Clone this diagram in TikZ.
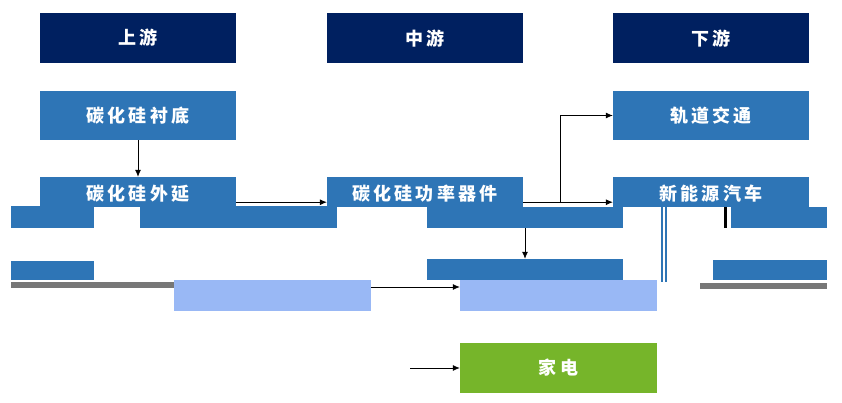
\documentclass[tikz,border=0pt]{standalone}
\usepackage{fontspec}
\newfontfamily\cjk[LetterSpace=18]{Noto Sans CJK SC}
\usetikzlibrary{arrows.meta}
\definecolor{navy}{HTML}{002060}
\definecolor{mblue}{HTML}{2E75B6}
\definecolor{lblue}{HTML}{99B8F5}
\definecolor{mgreen}{HTML}{76B52A}
\definecolor{mgrey}{HTML}{777777}
\tikzset{
  box/.style={draw=none, minimum width=196pt, inner sep=0pt, font=\cjk\bfseries\fontsize{18pt}{20pt}\selectfont, text=white},
  hdr/.style={box, fill=navy, minimum height=50pt},
  stepbox/.style={box, fill=mblue, minimum height=49pt},
  cutbox/.style={box, fill=mblue, minimum height=30pt, text height=14pt, text depth=4pt},
  frag/.style={draw=none, fill=mblue, inner sep=0pt},
  lfrag/.style={draw=none, fill=lblue, inner sep=0pt, minimum width=197pt, minimum height=31pt},
  gfrag/.style={draw=none, fill=mgrey, inner sep=0pt},
  conn/.style={draw=black, line width=0.8pt, -{Latex[length=7pt,width=6pt]}}
}
\begin{document}
\begin{tikzpicture}[x=1pt,y=-1pt]
\useasboundingbox (0,0) rectangle (842,403);
% headers
\node[hdr] (up) at (138,38) {上游};
\node[hdr] (mid) at (425,38.5) {中游};
\node[hdr] (down) at (711,38.5) {下游};
% row 2
\node[stepbox] (sub) at (138,115.5) {碳化硅衬底};
\node[stepbox] (rail) at (711,115.5) {轨道交通};
% row 3 (upper parts of boxes)
\node[cutbox] (epi) at (138,192) {\raisebox{-4pt}{碳化硅外延}};
\node[cutbox] (pow) at (425,192) {\raisebox{-4pt}{碳化硅功率器件}};
\node[cutbox] (nev) at (711,192) {\raisebox{-4pt}{新能源汽车}};
% fragments below row 3
\node[frag, minimum width=83pt, minimum height=22pt] (f1) at (52.5,217) {};
\node[frag, minimum width=197pt, minimum height=22pt] (f2) at (238.5,217) {};
\node[frag, minimum width=196pt, minimum height=21pt] (f3) at (525,217.5) {};
\node[frag, minimum width=96pt, minimum height=21pt] (f4) at (779,217.5) {};
\node[draw=none, fill=black, inner sep=0pt, minimum width=3pt, minimum height=21pt] (bar) at (725.5,217.5) {};
\node[frag, minimum width=1.5pt, minimum height=75pt] (v1) at (662,244.5) {};
\node[frag, minimum width=1.5pt, minimum height=75pt] (v2) at (666,244.5) {};
% row 4 fragments
\node[frag, minimum width=83pt, minimum height=19pt] (g1) at (52.5,270.5) {};
\node[frag, minimum width=196pt, minimum height=21pt] (g2) at (525,269.5) {};
\node[frag, minimum width=114pt, minimum height=20pt] (g3) at (770,270) {};
\node[gfrag, minimum width=163pt, minimum height=6pt] (h1) at (92.5,285) {};
\node[gfrag, minimum width=127pt, minimum height=6pt] (h2) at (763.5,285.5) {};
\node[lfrag] (lb1) at (272.5,295.5) {};
\node[lfrag] (lb2) at (558.5,295.5) {};
% bottom
\node[box, fill=mgreen, minimum width=197pt, minimum height=50pt] (app) at (558.5,368) {家电};
\coordinate (j) at (560,202);
\coordinate (a0) at (410,368);
% connectors
\draw[conn] (sub.south) -- (epi.north);
\draw[conn] ([yshift=5pt]epi.south east) -- ([yshift=5pt]pow.south west);
\draw[conn] ([yshift=5pt]pow.south east) -- ([yshift=5pt]nev.south west);
\draw[conn] (j) |- (rail.west);
\draw[conn] (f3.south) -- (g2.north);
\draw[conn] ([yshift=8.5pt]lb1.east) -- ([yshift=8.5pt]lb2.west);
\draw[conn] (a0) -- (app.west);
\end{tikzpicture}
\end{document}
